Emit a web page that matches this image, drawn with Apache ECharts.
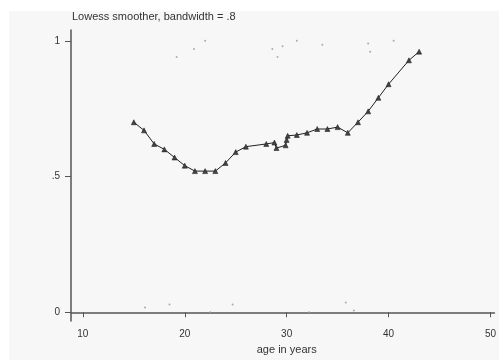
<!DOCTYPE html>
<html>
<head>
<meta charset="utf-8">
<script src="https://cdn.jsdelivr.net/npm/echarts@6/dist/echarts.min.js"></script>
<style>
  html, body { margin: 0; padding: 0; background: #fff; }
  #chart { width: 499px; height: 360px; }
</style>
</head>
<body>
<div id="chart"></div>
<script>
// observed outcomes (0/1, slightly jittered as plotted)
const obsAge = [19.2, 20.9, 22.0, 28.6, 29.1, 29.6, 31.0, 33.5, 38.0, 38.2, 40.5,
                16.1, 18.5, 22.5, 24.7, 32.2, 35.8, 36.6];
const obsVal = [0.94, 0.97, 1.0, 0.97, 0.94, 0.98, 1.0, 0.985, 0.99, 0.96, 1.0,
                0.018, 0.029, 0.0, 0.029, 0.0, 0.036, 0.007];

// lowess smoothed values
const smoothAge = [15, 16, 17, 18, 19, 20, 21, 22, 23, 24, 25, 26, 28, 28.8, 29,
                   29.9, 30, 30.1, 31, 32, 33, 34, 35, 36, 37, 38, 39, 40, 42, 43];
const smoothVal = [0.70, 0.67, 0.62, 0.60, 0.57, 0.54, 0.52, 0.52, 0.52, 0.55, 0.59, 0.61, 0.62, 0.625, 0.605,
                   0.615, 0.635, 0.65, 0.653, 0.661, 0.675, 0.675, 0.682, 0.661, 0.70, 0.74, 0.79, 0.84, 0.928, 0.96];

const xTicks = [10, 20, 30, 40, 50];
const yTicks = [0, 0.5, 1];

const chart = echarts.init(document.getElementById('chart'));

const option = {
  backgroundColor: '#fff',
  animation: false,
  textStyle: { fontFamily: 'Liberation Sans, Arial, sans-serif' },
  graphic: [{
    type: 'rect',
    z: -10,
    shape: { x: 9, y: 11, width: 490, height: 349 },
    style: { fill: '#f7f7f7' }
  }],
  title: {
    text: 'Lowess smoother, bandwidth = .8',
    left: 72,
    top: 11,
    padding: 0,
    textStyle: { fontSize: 11, fontWeight: 'normal', color: '#333' }
  },
  grid: { left: 71, right: 0, top: 30, bottom: 33 },
  xAxis: {
    type: 'value',
    min: 8.835,
    max: 50.39,
    name: 'age in years',
    nameLocation: 'middle',
    nameGap: 19,
    nameTextStyle: { fontSize: 11, color: '#333', padding: [0, 0, 0, 8] },
    axisLine: { lineStyle: { color: '#555', width: 1.5 } },
    axisTick: { show: true, length: 5, customValues: xTicks, lineStyle: { color: '#555' } },
    axisLabel: {
      customValues: xTicks, fontSize: 10, color: '#333', margin: 8,
      showMaxLabel: true, alignMaxLabel: 'center'
    },
    splitLine: { show: false }
  },
  yAxis: {
    type: 'value',
    min: -0.0325,
    max: 1.0397,
    axisLine: { show: true, lineStyle: { color: '#555', width: 1.5 } },
    axisTick: { show: true, length: 6, customValues: yTicks, lineStyle: { color: '#555' } },
    axisLabel: {
      customValues: yTicks, fontSize: 10, color: '#333', margin: 11,
      formatter: v => (v === 0.5 ? '.5' : String(v))
    },
    splitLine: { show: false }
  },
  series: [
    {
      type: 'scatter',
      data: obsAge.map((a, i) => [a, obsVal[i]]),
      symbol: 'circle',
      symbolSize: 2,
      itemStyle: { color: '#999' }
    },
    {
      type: 'line',
      data: smoothAge.map((a, i) => [a, smoothVal[i]]),
      symbol: 'triangle',
      symbolSize: 5,
      showAllSymbol: true,
      lineStyle: { color: '#222', width: 1 },
      itemStyle: { color: '#444', borderColor: '#111', borderWidth: 0.5 }
    }
  ]
};

chart.setOption(option);
</script>
</body>
</html>
